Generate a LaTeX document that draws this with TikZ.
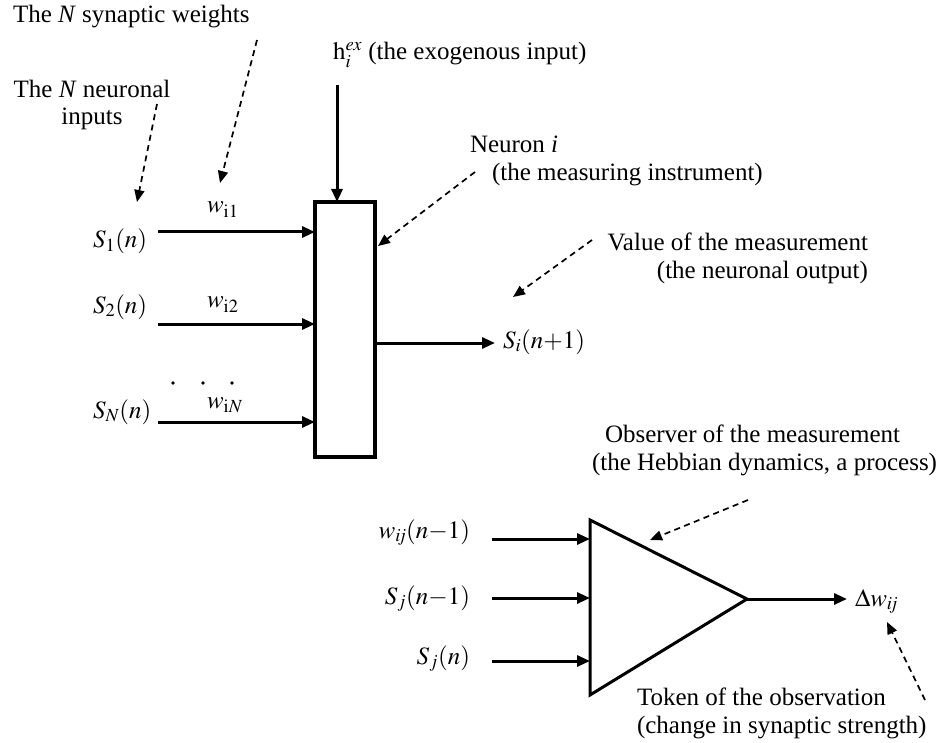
\documentclass[tikz,border=0pt]{standalone}
\usepackage{mathptmx}
\usepackage{fontspec}
\setmainfont{Liberation Serif}
\usetikzlibrary{arrows.meta}
\begin{document}
\begin{tikzpicture}[x=1pt,y=-1pt,
  every node/.style={font=\fontsize{25}{28}\selectfont, inner sep=0pt, outer sep=0pt},
  solidarrow/.style={line width=3pt, -{Triangle[length=13pt,width=11pt]}},
  dasharrow/.style={line width=1.7pt, dash pattern=on 6pt off 4.5pt, -{Triangle[length=12pt,width=10pt]}},
  neuronbox/.style={draw, line width=3.2pt, minimum width=60pt, minimum height=255pt},
  observer/.style={draw, line width=3pt, line join=miter},
]
\useasboundingbox (0,0) rectangle (942,743);

% ---- texts
\node[anchor=base west] (synw) at (13,23) {The \textit{N} synaptic weights};
\node[anchor=north, align=center, font=\fontsize{25}{27}\selectfont] (neuinp) at (92,80) {The \textit{N} neuronal\\inputs};
\node[anchor=base west] (hex) at (333,60) {$\mathrm{h}_{i}^{\mathit{ex}}$ (the exogenous input)};
\node[anchor=north west, align=left] (neur) at (470,136) {Neuron \textit{i}\\\hspace*{22pt}(the measuring instrument)};
\node[anchor=north east, align=right] (valm) at (868,233) {Value of the measurement\\(the neuronal output)};
\node[anchor=north west, align=left] (obs) at (592,425) {\hspace*{13pt}Observer of the measurement\\(the Hebbian dynamics, a process)};
\node[anchor=north west, align=left] (tok) at (637,688) {Token of the observation\\(change in synaptic strength)};

% ---- neuron box
\node[neuronbox] (box) at (345,329.5) {};

% ---- inputs
\node[anchor=base west] (s1) at (93,248) {$S_1(n)$};
\node[anchor=base west] (s2) at (93,313) {$S_2(n)$};
\node[anchor=base west] (sN) at (93,418) {$S_N(n)$};
\node[anchor=base west] (w1) at (207,213) {$w_{\mathrm{i}1}$};
\node[anchor=base west] (w2) at (207,308) {$w_{\mathrm{i}2}$};
\node[anchor=base west] (wN) at (207,408) {$w_{\mathrm{i}N}$};
\coordinate (a1) at (158,232);
\coordinate (a2) at (158,324);
\coordinate (aN) at (158,422);
\draw[solidarrow] (a1) -- (a1 -| box.west);
\draw[solidarrow] (a2) -- (a2 -| box.west);
\draw[solidarrow] (aN) -- (aN -| box.west);
\fill (173,383) circle (1.8) (203,383) circle (1.8) (232,383) circle (1.8);

% exogenous input
\coordinate (hx) at (337,85);
\draw[solidarrow] (hx) -- (hx |- box.north);

% output
\coordinate (out) at (495,343);
\draw[solidarrow] (out -| box.east) -- (out);
\node[anchor=base west] (si) at (503,348) {$S_i(n{+}1)$};

% ---- observer triangle
\coordinate (tA) at (590,520);
\coordinate (tB) at (590,695);
\coordinate (tC) at (747,599);
\draw[observer] (tA) -- (tC) -- (tB) -- cycle;
\node[anchor=base east] (wij) at (470,538) {$w_{\mathit{ij}}(n{-}1)$};
\node[anchor=base east] (sjm) at (470,604) {$S_j(n{-}1)$};
\node[anchor=base east] (sj) at (470,664) {$S_j(n)$};
\coordinate (b1) at (492,539);
\coordinate (b2) at (492,598);
\coordinate (b3) at (492,661);
\draw[solidarrow] (b1) -- (b1 -| tA);
\draw[solidarrow] (b2) -- (b2 -| tA);
\draw[solidarrow] (b3) -- (b3 -| tA);
\coordinate (dwtip) at (847,599);
\draw[solidarrow] (tC) -- (dwtip);
\node[anchor=base west] (dw) at (855,606) {$\Delta w_{\mathit{ij}}$};

% ---- dashed pointers
\coordinate (d1s) at (157,104); \coordinate (d1e) at (137,202);
\coordinate (d2s) at (257,40);  \coordinate (d2e) at (220,183);
\coordinate (d3s) at (475,172); \coordinate (d3e) at (378,246);
\coordinate (d4s) at (592,240); \coordinate (d4e) at (513,297);
\coordinate (d5s) at (748,500); \coordinate (d5e) at (650,540);
\coordinate (d6s) at (925,700); \coordinate (d6e) at (887,622);
\draw[dasharrow] (d1s) -- (d1e);
\draw[dasharrow] (d2s) -- (d2e);
\draw[dasharrow] (d3s) -- (d3e);
\draw[dasharrow] (d4s) -- (d4e);
\draw[dasharrow] (d5s) -- (d5e);
\draw[dasharrow] (d6s) -- (d6e);
\end{tikzpicture}
\end{document}
